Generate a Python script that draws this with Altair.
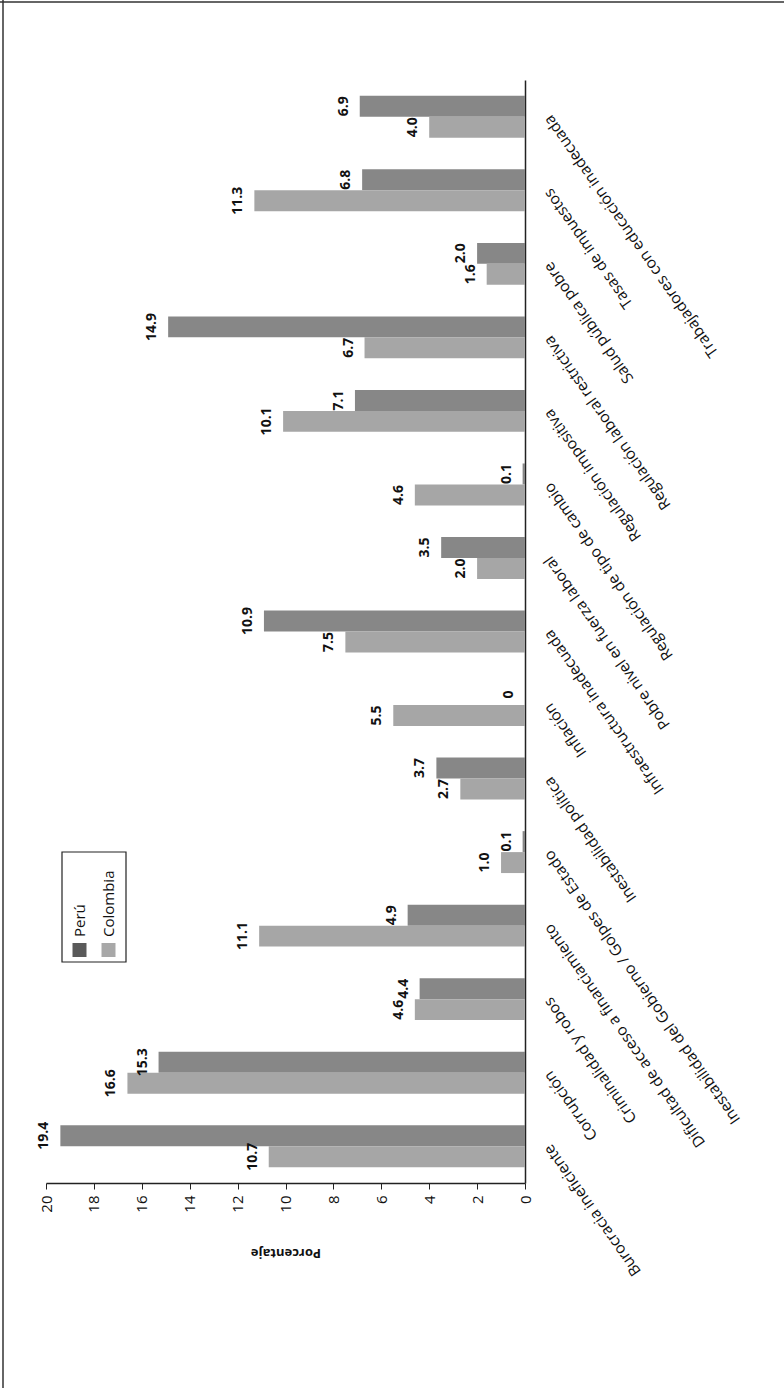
import altair as alt
import pandas as pd

# Obstacles to doing business, share of responses (%)
categorias = [
    "Burocracia ineficiente",
    "Corrupción",
    "Criminalidad y robos",
    "Dificultad de acceso a financiamiento",
    "Inestabilidad del Gobierno / Golpes de Estado",
    "Inestabilidad política",
    "Inflación",
    "Infraestructura inadecuada",
    "Pobre nivel en fuerza laboral",
    "Regulación de tipo de cambio",
    "Regulación impositiva",
    "Regulación laboral restrictiva",
    "Salud pública pobre",
    "Tasas de impuestos",
    "Trabajadores con educación inadecuada",
]
peru = [19.4, 15.3, 4.4, 4.9, 0.1, 3.7, 0.0, 10.9, 3.5, 0.1, 7.1, 14.9, 2.0, 6.8, 6.9]
colombia = [10.7, 16.6, 4.6, 11.1, 1.0, 2.7, 5.5, 7.5, 2.0, 4.6, 10.1, 6.7, 1.6, 11.3, 4.0]
paises = ["Perú", "Colombia"]
colores_barras = ["#878787", "#a6a6a6"]
colores_leyenda = ["#5a5a5a", "#a8a8a8"]
marcas_eje = [0, 2, 4, 6, 8, 10, 12, 14, 16, 18, 20]

filas = []
for factor, p, c in zip(categorias, peru, colombia):
    filas.append({"factor": factor, "pais": paises[0], "valor": p})
    filas.append({"factor": factor, "pais": paises[1], "valor": c})
df = pd.DataFrame(filas)

W, H = 479, 1103          # plot area
PAD_L, PAD_T = 46, 80
TOTAL_W, TOTAL_H = 784, 1388
FONT = "Open Sans"

x_enc = alt.X(
    "valor:Q",
    scale=alt.Scale(domain=[0, 20], reverse=True, nice=False),
    axis=alt.Axis(
        orient="bottom", values=marcas_eje, grid=False,
        labelAngle=270, labelAlign="right", labelBaseline="middle",
        labelFont=FONT, labelFontSize=15, labelColor="#111", labelPadding=6,
        tickSize=6, tickColor="#222", domainColor="#222", domainWidth=1.5,
        title="Porcentaje", titleAngle=180, titleFont=FONT, titleFontSize=13,
        titleFontWeight="bold", titleColor="#111", titleBaseline="middle", titleY=69,
    ),
)
y_enc = alt.Y(
    "factor:N",
    sort=categorias[::-1],
    scale=alt.Scale(paddingInner=0.43, paddingOuter=0.215),
    axis=alt.Axis(
        orient="right", title=None, ticks=False, grid=False,
        labelAngle=235, labelAlign="right", labelBaseline="middle",
        labelFont=FONT, labelFontSize=15.5, labelColor="#111", labelPadding=22,
        labelLimit=0, domainColor="#222", domainWidth=1.5,
    ),
)
y_off = alt.YOffset("pais:N", sort=paises, scale=alt.Scale(paddingInner=0))

base = alt.Chart(df)

barras = base.mark_bar().encode(
    x=x_enc,
    y=y_enc,
    yOffset=y_off,
    color=alt.Color("pais:N", scale=alt.Scale(domain=paises, range=colores_barras), legend=None),
)

etiquetas = base.transform_calculate(
    txt="datum.valor == 0 ? '0' : format(datum.valor, '.1f')"
).mark_text(
    angle=270, align="center", baseline="middle", dy=-16,
    font=FONT, fontSize=14, fontWeight="bold", color="#111",
).encode(
    x=alt.X("valor:Q"),
    y=alt.Y("factor:N", sort=categorias[::-1]),
    yOffset=alt.YOffset("pais:N", sort=paises),
    text="txt:N",
)

# page frame (left and top edges)
marco_izq = alt.Chart(pd.DataFrame({"k": [0]})).mark_rule(color="#333", strokeWidth=1.5).encode(
    x=alt.value(3 - PAD_L), y=alt.value(-PAD_T), y2=alt.value(TOTAL_H - PAD_T)
)
marco_sup = alt.Chart(pd.DataFrame({"k": [0]})).mark_rule(color="#333", strokeWidth=1.5).encode(
    y=alt.value(2 - PAD_T), x=alt.value(-PAD_L), x2=alt.value(TOTAL_W - PAD_L)
)

# legend box
caja = alt.Chart(pd.DataFrame({"k": [0]})).mark_rect(
    fill="white", stroke="#222", strokeWidth=1.2
).encode(x=alt.value(16), x2=alt.value(80), y=alt.value(772), y2=alt.value(882))

leyenda = [caja]
for i, (pais, col) in enumerate(zip(paises, colores_leyenda)):
    cx = 33.5 + 29 * i
    d = pd.DataFrame({"pais": [pais]})
    leyenda.append(
        alt.Chart(d).mark_square(size=196, color=col, opacity=1).encode(
            x=alt.value(cx), y=alt.value(870)
        )
    )
    leyenda.append(
        alt.Chart(d).mark_text(
            angle=270, align="left", baseline="middle",
            font=FONT, fontSize=15, color="#111",
        ).encode(x=alt.value(cx), y=alt.value(857), text="pais:N")
    )

chart = alt.layer(
    marco_izq, marco_sup, barras, etiquetas, *leyenda
).properties(
    width=W, height=H,
    autosize=alt.AutoSizeParams(type="none"),
    padding={"left": PAD_L, "top": PAD_T, "right": TOTAL_W - PAD_L - W, "bottom": TOTAL_H - PAD_T - H},
    background="white",
).configure_view(stroke=None)

chart.save("out.html", embed_options={"renderer": "svg", "actions": False})
